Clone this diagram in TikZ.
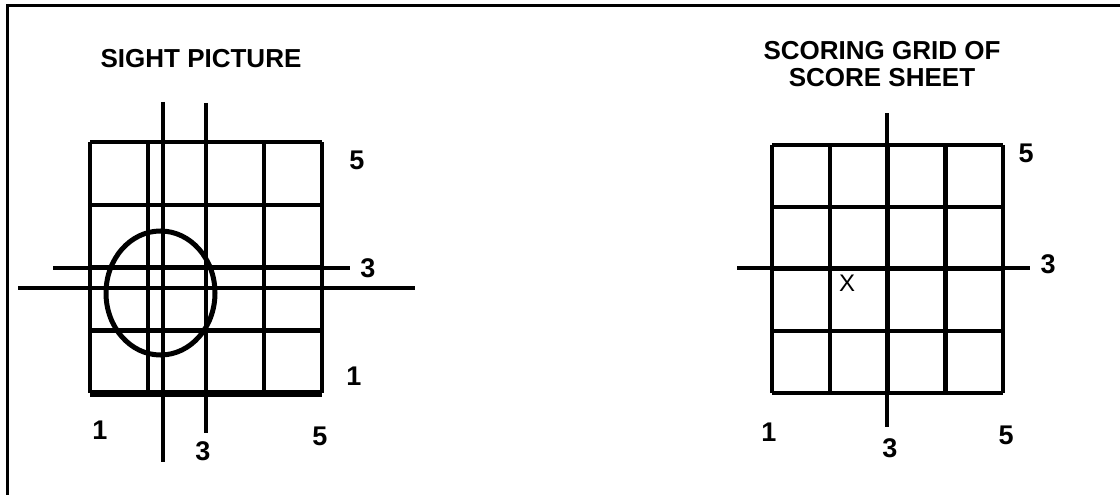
\documentclass[tikz,border=0pt]{standalone}
\usepackage{fontspec}
\setmainfont{Liberation Sans}
\begin{document}
\begin{tikzpicture}[
  x=1pt, y=-1pt,
  gridline/.style={line width=4.5pt},
  crossline/.style={line width=3.8pt},
  framedge/.style={line width=3pt},
  digit/.style={font=\fontsize{27}{29}\selectfont\bfseries, inner sep=0pt},
  heading/.style={font=\fontsize{26}{27.5}\selectfont\bfseries,
                  inner sep=0pt, align=center}
]
\useasboundingbox (0,0) rectangle (1120,495);
% frame
\draw[framedge] (1120,6) -- (7,6) -- (7,495);

% sight picture
\node[heading] (sighttitle) at (201,59) {SIGHT PICTURE};
\foreach \i in {0,...,4} {
  \draw[gridline] (90+58*\i,142) -- (90+58*\i,393);
  \draw[gridline] (90,142+62.75*\i) -- (322,142+62.75*\i);
}
\draw[line width=7pt] (90,393) -- (322,393);
\draw[gridline] (206,103) -- (206,433);
\draw[gridline] (53,268) -- (350,268);
\draw[crossline] (163,102) -- (163,462);
\draw[crossline] (18,288) -- (415,288);
\draw[line width=5pt] (160.5,293) ellipse [x radius=54.5pt, y radius=62pt];
\node[digit] (sightR5) at (357,160) {5};
\node[digit] (sightR3) at (368,268) {3};
\node[digit] (sightR1) at (354,376) {1};
\node[digit] (sightB1) at (100,430) {1};
\node[digit] (sightB3) at (203,451) {3};
\node[digit] (sightB5) at (320,436) {5};

% scoring grid
\node[heading] (scoretitle) at (882,64) {SCORING GRID OF\\SCORE SHEET};
\foreach \i in {0,...,4} {
  \draw[gridline] (772+57.75*\i,145) -- (772+57.75*\i,393);
  \draw[gridline] (772,145+62*\i) -- (1003,145+62*\i);
}
\draw[gridline] (887,113) -- (887,427);
\draw[crossline] (737,268) -- (1030,268);
\node[font=\fontsize{24}{26}\selectfont, inner sep=0pt] (shotmark) at (847,283) {X};
\node[digit] (scoreR5) at (1026,153) {5};
\node[digit] (scoreR3) at (1048,264) {3};
\node[digit] (scoreB1) at (769,432) {1};
\node[digit] (scoreB3) at (890,448) {3};
\node[digit] (scoreB5) at (1006,435) {5};
\end{tikzpicture}
\end{document}
